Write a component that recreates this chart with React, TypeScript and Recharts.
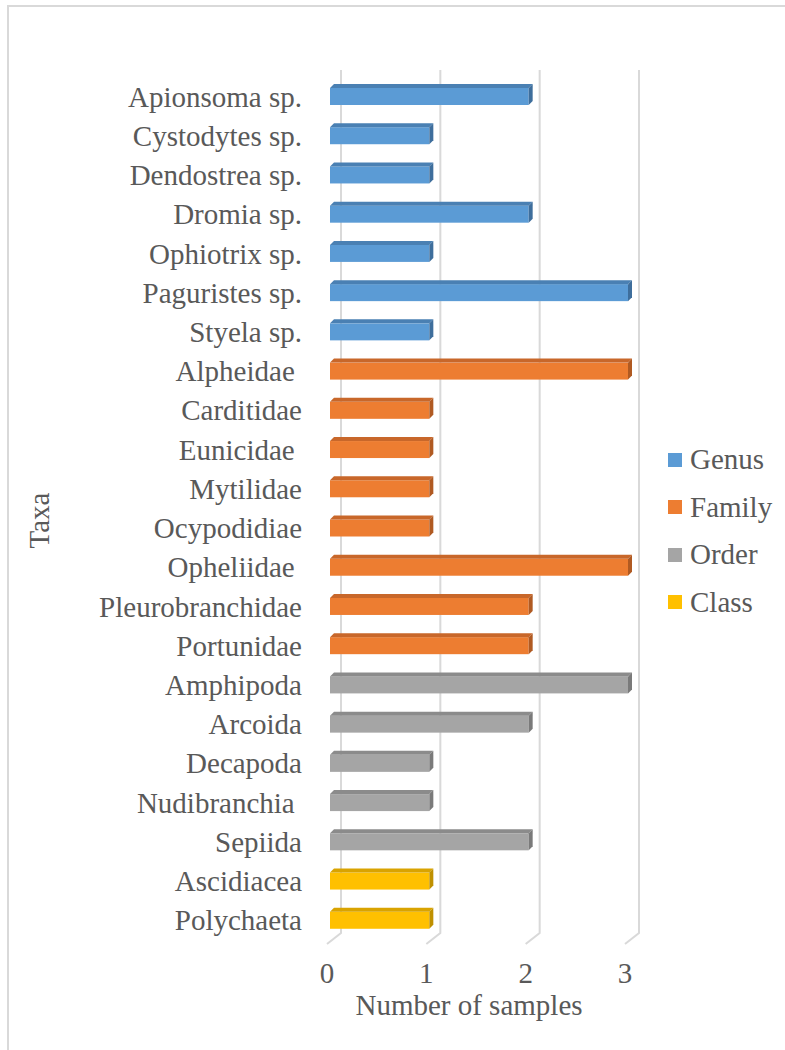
import React from "react";
import {
  BarChart,
  Bar,
  XAxis,
  YAxis,
  CartesianGrid,
  Label,
} from "recharts";

const taxa = [
  "Apionsoma sp.",
  "Cystodytes sp.",
  "Dendostrea sp.",
  "Dromia sp.",
  "Ophiotrix sp.",
  "Paguristes sp.",
  "Styela sp.",
  "Alpheidae ",
  "Carditidae",
  "Eunicidae ",
  "Mytilidae",
  "Ocypodidiae",
  "Opheliidae ",
  "Pleurobranchidae",
  "Portunidae",
  "Amphipoda",
  "Arcoida",
  "Decapoda",
  "Nudibranchia ",
  "Sepiida",
  "Ascidiacea",
  "Polychaeta",
];

// null = taxon not in this level
const genus = [2, 1, 1, 2, 1, 3, 1, null, null, null, null, null, null, null, null, null, null, null, null, null, null, null];
const family = [null, null, null, null, null, null, null, 3, 1, 1, 1, 1, 3, 2, 2, null, null, null, null, null, null, null];
const order = [null, null, null, null, null, null, null, null, null, null, null, null, null, null, null, 3, 2, 1, 1, 2, null, null];
const cls = [null, null, null, null, null, null, null, null, null, null, null, null, null, null, null, null, null, null, null, null, 1, 1];

const xTicks = [0, 1, 2, 3];

const levels = [
  { key: "Genus", front: "#5B9BD5", top: "#4A80B3", side: "#3E6E9C" },
  { key: "Family", front: "#ED7D31", top: "#C8672A", side: "#B05A22" },
  { key: "Order", front: "#A5A5A5", top: "#8B8B8B", side: "#7A7A7A" },
  { key: "Class", front: "#FFC000", top: "#D9A300", side: "#BF9000" },
];

const data = taxa.map((name, i) => ({
  name,
  Genus: genus[i],
  Family: family[i],
  Order: order[i],
  Class: cls[i],
}));

const FONT = "'Liberation Serif', 'Times New Roman', serif";
const TEXT = "#595959";
const FS = 29;
const D = 4; // 3d depth of the bars

const make3d = (front: string, top: string, side: string) => (props: any) => {
  const { x, y, width, height } = props;
  if (!width || width <= 0) return <g />;
  return (
    <g>
      <rect x={x} y={y} width={width} height={height} fill={front} />
      <polygon
        points={`${x},${y} ${x + D},${y - D} ${x + width + D},${y - D} ${x + width},${y}`}
        fill={top}
      />
      <polygon
        points={`${x + width},${y} ${x + width + D},${y - D} ${x + width + D},${y + height - D} ${x + width},${y + height}`}
        fill={side}
      />
    </g>
  );
};

const GridLine = (props: any) => {
  const { x1, y1, y2 } = props;
  return (
    <polyline
      points={`${x1 + 11},${y1 - 7} ${x1 + 11},${y2 - 7} ${x1 - 3},${y2 + 4}`}
      fill="none"
      stroke="#D9D9D9"
      strokeWidth={2}
    />
  );
};

const YTick = ({ x, y, payload }: any) => (
  <text
    x={x}
    y={y}
    dy={10}
    textAnchor="end"
    fontSize={FS}
    fontFamily={FONT}
    fill={TEXT}
    style={{ whiteSpace: "pre" }}
  >
    {payload.value}
  </text>
);

const XTick = ({ x, y, payload }: any) => (
  <text x={x - 3} y={y} dy={43} textAnchor="middle" fontSize={FS} fontFamily={FONT} fill={TEXT}>
    {payload.value}
  </text>
);

export default function App() {
  return (
    <div
      style={{
        position: "fixed",
        left: 0,
        top: 0,
        width: 785,
        height: 1050,
        overflow: "hidden",
        background: "#fff",
      }}
    >
      <div
        style={{
          position: "absolute",
          left: 7,
          top: 5,
          width: 820,
          height: 1100,
          border: "2px solid #D9D9D9",
        }}
      />
      <div style={{ position: "absolute", left: 0, top: 0 }}>
        <BarChart
          width={785}
          height={1050}
          data={data}
          layout="vertical"
          margin={{ top: 77, right: 157, bottom: 35, left: 0 }}
          barSize={17}
        >
          <CartesianGrid horizontal={false} vertical={GridLine} />
          <XAxis
            type="number"
            domain={[0, 3]}
            ticks={xTicks}
            axisLine={false}
            tickLine={false}
            tickSize={0}
            tickMargin={0}
            height={75}
            tick={XTick}
          >
            <Label
              content={({ viewBox }: any) => (
                <text
                  x={viewBox.x + viewBox.width / 2 - 10}
                  y={viewBox.y + 75}
                  textAnchor="middle"
                  fontSize={FS}
                  fontFamily={FONT}
                  fill={TEXT}
                >
                  Number of samples
                </text>
              )}
            />
          </XAxis>
          <YAxis
            type="category"
            dataKey="name"
            width={330}
            axisLine={false}
            tickLine={false}
            tickSize={0}
            tickMargin={28}
            interval={0}
            tick={YTick}
          >
            <Label
              content={({ viewBox }: any) => (
                <text
                  transform={`translate(${viewBox.x + 49}, ${viewBox.y + viewBox.height / 2 + 12}) rotate(-90)`}
                  textAnchor="middle"
                  fontSize={FS}
                  fontFamily={FONT}
                  fill={TEXT}
                >
                  Taxa
                </text>
              )}
            />
          </YAxis>
          {levels.map((l) => (
            <Bar
              key={l.key}
              dataKey={l.key}
              stackId="a"
              fill={l.front}
              isAnimationActive={false}
              shape={make3d(l.front, l.top, l.side)}
            />
          ))}
        </BarChart>
      </div>
      <div style={{ position: "absolute", left: 668, top: 436 }}>
        {levels.map((l) => (
          <div key={l.key} style={{ display: "flex", alignItems: "center", height: 47.5 }}>
            <span style={{ width: 14, height: 14, background: l.front, marginRight: 8, display: "inline-block" }} />
            <span style={{ fontSize: FS, fontFamily: FONT, color: TEXT, lineHeight: 1 }}>{l.key}</span>
          </div>
        ))}
      </div>
    </div>
  );
}
